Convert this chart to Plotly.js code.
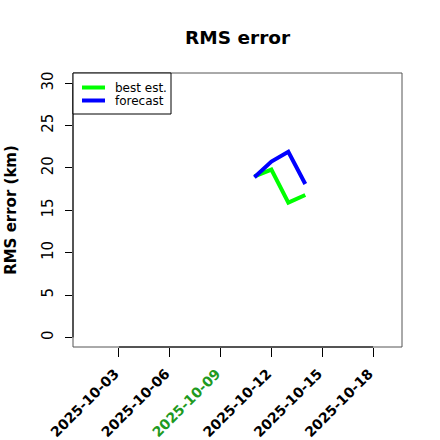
<!DOCTYPE html>
<html><head><meta charset="utf-8">
<script src="https://cdn.plot.ly/plotly-3.0.1.min.js"></script>
<style>body{margin:0;background:#fff}#c{width:440px;height:440px}</style>
</head><body><div id="c"></div>
<script>
const dates = ["2025-10-11", "2025-10-12", "2025-10-13", "2025-10-14"];
const bestEst = [19.0, 19.8, 15.9, 16.8];
const forecast = [18.9, 20.75, 21.9, 18.1];
const seriesNames = ["best est.", "forecast"];
const seriesColors = ["#00ff00", "#0000ff"];
const xTickVals = ["2025-10-03", "2025-10-06", "2025-10-09", "2025-10-12", "2025-10-15", "2025-10-18"];
const highlightDate = "2025-10-09";
const yTickVals = [0, 5, 10, 15, 20, 25, 30];

const font = "DejaVu Sans, sans-serif";
const W = 440, H = 440;
const M = {l: 73, r: 38, t: 73, b: 93};
const pw = W - M.l - M.r, ph = H - M.t - M.b;
const px = v => (v - M.l) / pw;          // pixel -> paper x
const py = v => 1 - (v - M.t) / ph;      // pixel -> paper y

const ticktext = xTickVals.map(d => d === highlightDate ? '<span style="color:#1f9a1f">' + d + '</span>' : d);

const seriesData = [bestEst, forecast];
const traces = seriesData.map((ys, i) => ({
  x: dates, y: ys, type: "scatter", mode: "lines", name: seriesNames[i],
  line: {color: seriesColors[i], width: 4}, showlegend: false
}));

// manual compact legend (R style)
const legendShapes = [
  {type: "rect", xref: "paper", yref: "paper", x0: px(73), x1: px(171), y0: py(114), y1: py(73),
   line: {color: "#000", width: 1}, fillcolor: "#fff"}
];
const legendAnn = [];
seriesNames.forEach((n, i) => {
  const yy = 87.5 + i * 13;
  legendShapes.push({type: "line", xref: "paper", yref: "paper", x0: px(82), x1: px(105), y0: py(yy), y1: py(yy),
    line: {color: seriesColors[i], width: 4}});
  legendAnn.push({xref: "paper", yref: "paper", x: px(113), y: py(yy), xanchor: "left", yanchor: "middle",
    text: n, showarrow: false, font: {size: 12, family: font, color: "#000"}});
});

const layout = {
  width: W, height: H,
  margin: M,
  paper_bgcolor: "#fff", plot_bgcolor: "#fff",
  font: {family: font, color: "#000"},
  title: {text: "<b>RMS error</b>", x: 0.54, xanchor: "center", y: 0.915, yanchor: "middle",
          font: {size: 18.5, family: font}},
  showlegend: false,
  xaxis: {type: "date", range: ["2025-09-30 07:00", "2025-10-19 17:00"],
          tickvals: xTickVals, ticktext: ticktext, tickangle: -45,
          tickfont: {size: 14, family: font, weight: "bold"},
          ticks: "outside", ticklen: 9, tickcolor: "#000", tickwidth: 1,
          ticklabelshift: -4, ticklabelstandoff: 3,
          showgrid: false, zeroline: false, showline: false},
  yaxis: {range: [-1.13, 31.2], tickvals: yTickVals, tickangle: -90,
          tickfont: {size: 15, family: font},
          ticks: "outside", ticklen: 7, tickcolor: "#000", tickwidth: 1,
          ticklabelstandoff: 6,
          showgrid: false, zeroline: false, showline: false,
          title: {text: "<b>RMS error (km)</b>", font: {size: 15, family: font}, standoff: 18}},
  shapes: [
    {type: "rect", xref: "paper", yref: "paper", x0: 0, x1: 1, y0: 0, y1: 1,
     line: {color: "#555", width: 1}, fillcolor: "rgba(0,0,0,0)"},
    {type: "line", xref: "paper", yref: "y", x0: 0, x1: 0, y0: 0, y1: 30,
     line: {color: "#000", width: 1}},
    {type: "line", xref: "x", yref: "paper", x0: "2025-10-03", x1: "2025-10-18", y0: 0, y1: 0,
     line: {color: "#000", width: 1}}
  ].concat(legendShapes),
  annotations: legendAnn
};
Plotly.newPlot("c", traces, layout, {displayModeBar: false, staticPlot: true});
</script></body></html>
